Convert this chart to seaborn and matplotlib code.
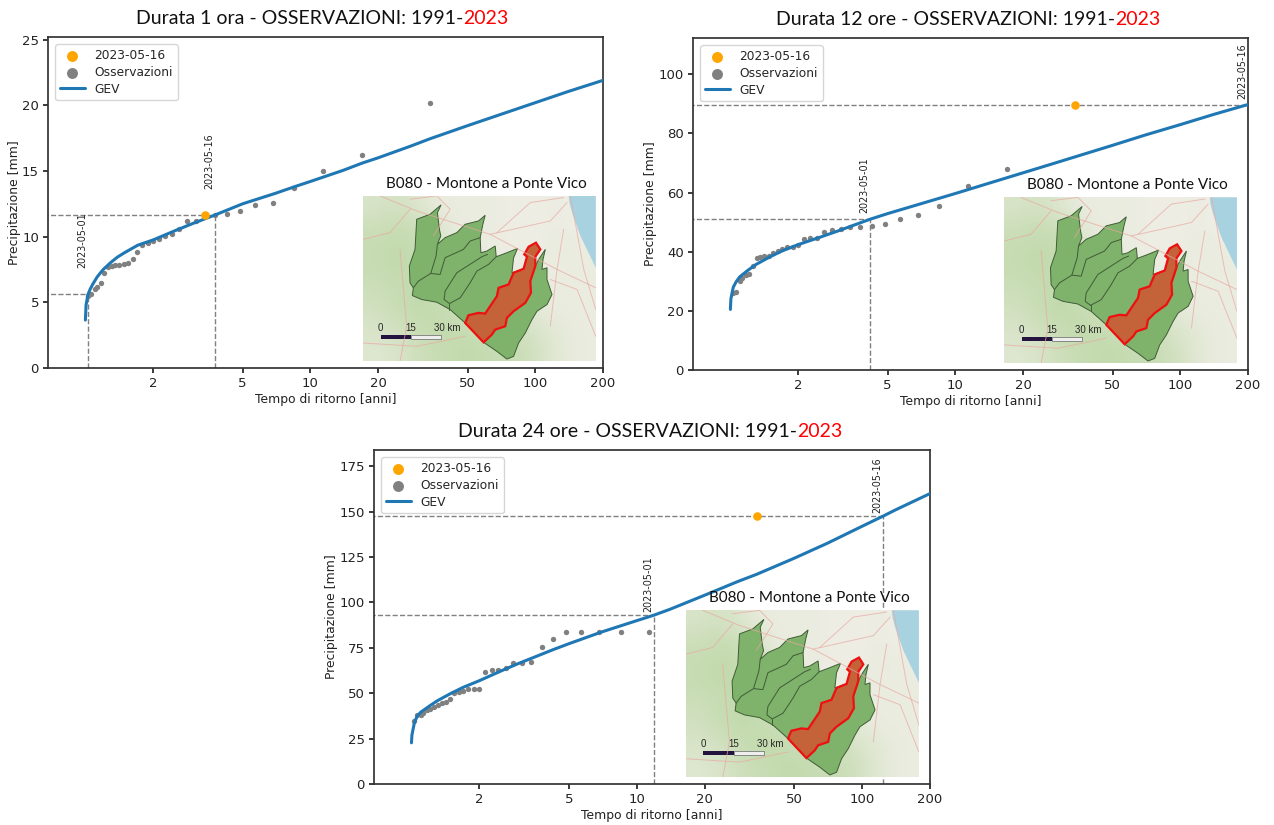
# Durata 1 / 12 / 24 ore - GEV e osservazioni

import matplotlib
matplotlib.use("Agg")
from matplotlib import pyplot as plt
from matplotlib.colors import LinearSegmentedColormap
from matplotlib.ticker import NullLocator
import seaborn as sns

# ======================================================================
# Data
# ======================================================================
xtick_values = [2, 5, 10, 20, 50, 100, 200]
obs_t = [17, 11.33, 8.5, 6.8, 5.67, 4.86, 4.25, 3.78, 3.4, 3.09, 2.83, 2.62,
         2.43, 2.27, 2.125, 2, 1.89, 1.79, 1.7, 1.62, 1.545, 1.478, 1.417,
         1.36, 1.31, 1.26, 1.21, 1.17, 1.13, 1.10, 1.0625, 1.03]

# 1 ora
obs_t_1h = [34] + obs_t
obs_1h = [20.2, 16.2, 15.0, 13.7, 12.6, 12.4, 11.95, 11.7, 11.65, 11.6, 11.2,
          11.2, 10.6, 10.2, 10.05, 9.85, 9.65, 9.55, 9.35, 8.8, 8.3, 8.0, 7.9,
          7.85, 7.85, 7.8, 7.7, 7.2, 6.5, 6.2, 6.0, 5.6, 5.5]
gev_t_1h = [1.0, 1.007, 1.027, 1.05, 1.08, 1.13, 1.2, 1.3, 1.39, 1.5, 1.71, 2, 2.5,
            3, 3.77, 5, 7, 8.5, 10, 14, 17, 20, 28, 34, 50, 70, 100, 140, 200]
gev_1h = [3.65, 4.8, 5.6, 6.0, 6.4, 6.95, 7.5, 8.05, 8.45, 8.8, 9.35, 9.75, 10.45,
          11.0, 11.65, 12.5, 13.3, 13.8, 14.2, 15.05, 15.6, 16.0, 16.9, 17.45,
          18.45, 19.3, 20.2, 21.05, 21.9]

# 12 ore
obs_12h = [68, 62.4, 55.5, 52.4, 51.2, 49.4, 48.8, 48.5, 48.4, 47.6, 47.2, 46.7,
           44.8, 44.5, 44.2, 42.3, 41.7, 41.5, 40.8, 40.2, 39.7, 38.7, 38.4,
           38.3, 37.9, 35.3, 32.5, 32.3, 31, 30.2, 26.5, 26]
gev_t_12h = [1.0, 1.005, 1.03, 1.06, 1.1, 1.2, 1.3, 1.5, 1.7, 2, 2.5, 3, 4.18,
             5, 7, 10, 14, 20, 28, 50, 70, 100, 140, 200]
gev_12h = [20.5, 24, 28, 29.8, 31.5, 33.8, 35.7, 38.3, 40.3, 42.4, 44.9, 47, 51,
           52.9, 56.2, 59.7, 63.1, 66.7, 70.1, 76, 79.5, 83, 86.4, 89.8]

# 24 ore
obs_t_24h = obs_t[1:]
obs_24h = [84, 84, 83.5, 83.5, 83.5, 80, 75.5, 67, 66.7, 66.5, 64, 63, 62.8,
           61.5, 52.5, 52.2, 52.2, 51, 50.7, 50.2, 46.8, 45, 44.8, 43.5, 42.5,
           41.5, 41, 39, 38, 38, 34.5]
gev_t_24h = [1.0, 1.005, 1.03, 1.06, 1.1, 1.2, 1.3, 1.5, 1.7, 2, 2.5, 3, 4.25, 5, 7,
             10, 11.9, 14, 20, 28, 34, 50, 70, 100, 124, 140, 200]
gev_24h = [22.7, 27, 33.7, 37.4, 39.6, 42.9, 45.8, 50, 53.3, 56.9, 62.3, 66.5, 74,
           77.3, 83.8, 90, 93, 96.2, 104, 111.5, 115.5, 124.4, 132.6, 142, 147.6,
           150.9, 160]

# event points and guide lines (return period, mm)
event_1h = [3.4, 11.65]
event_12h = [34, 89.8]
event_24h = [34, 147.5]
guides_1h = [[1.027, 5.6, "2023-05-01"], [3.77, 11.65, "2023-05-16"]]
guides_12h = [[4.18, 51, "2023-05-01"], [200, 89.8, "2023-05-16"]]
guides_24h = [[11.9, 93, "2023-05-01"], [124, 147.5, "2023-05-16"]]

# map outlines, in map pixels
green_x = [273, 262, 268, 272, 262, 285, 320, 345, 385, 405, 398, 390, 392, 410,
           435, 438, 470, 502, 490, 485, 520, 555, 565, 585, 578, 575, 590, 590,
           605, 590, 560, 545, 525, 505, 490, 470, 440, 400, 345, 300, 260, 215,
           187, 190, 180, 178, 195, 200, 240]
green_y = [107, 130, 180, 200, 225, 205, 190, 165, 155, 138, 165, 205, 250, 245,
           230, 262, 250, 237, 265, 310, 298, 290, 270, 240, 270, 300, 295, 330,
           375, 405, 425, 450, 490, 520, 560, 568, 545, 518, 460, 420, 398, 390,
           378, 355, 340, 290, 240, 150, 135]
red_x = [345, 355, 385, 405, 440, 445, 475, 490, 520, 530, 522, 535, 557, 570,
         555, 555, 540, 542, 525, 490, 470, 465, 435, 425, 400]
red_y = [460, 437, 430, 432, 380, 355, 345, 310, 298, 262, 255, 232, 220, 240,
         262, 290, 335, 370, 400, 425, 445, 470, 480, 495, 518]
inner_lines = [
    [[262, 258, 242, 270, 285, 340, 360, 390], [225, 260, 312, 315, 265, 240, 215, 205]],
    [[190, 205, 242], [355, 335, 312]],
    [[298, 282, 285, 320, 395, 412], [402, 390, 365, 310, 262, 255]],
    [[298, 330, 360, 380, 415, 438], [402, 385, 340, 305, 285, 262]],
    [[298, 298], [402, 420]],
]
# how green the base map is, coarse grid top to bottom
map_green = [
    [.4, .5, .3, .1, .1, .1, .05, .05, .1, .0],
    [.6, .7, .6, .2, .1, .1, .05, .05, .1, .0],
    [.7, .8, .7, .4, .15, .1, .05, .05, .15, .1],
    [.7, .8, .7, .5, .2, .1, .1, .1, .1, .1],
    [.6, .7, .8, .6, .3, .2, .1, .1, .1, .1],
    [.5, .7, .8, .7, .5, .4, .3, .2, .1, .1],
    [.4, .5, .7, .8, .7, .6, .6, .4, .2, .1],
    [.3, .4, .6, .7, .8, .7, .7, .5, .2, .1],
]
sea_x = [655, 736, 736, 690, 665, 657]
sea_y = [80, 80, 295, 200, 130, 100]
roads = [
    [[90, 200, 420, 620, 736], [80, 125, 195, 300, 355]],
    [[420, 600, 650], [195, 155, 100]],
    [[150, 170, 150], [240, 470, 575]],
    [[40, 200, 345], [520, 530, 500]],
    [[640, 620, 600], [180, 300, 470]],
    [[180, 260, 300, 250], [90, 80, 120, 200]],
    [[440, 540, 640], [190, 100, 85]],
    [[600, 680, 736], [330, 360, 500]],
    [[40, 120, 180], [210, 190, 120]],
    [[660, 700, 736], [80, 300, 420]],
]

# ======================================================================
# Plot
# ======================================================================
sns.set_theme(style="ticks")
plt.rcParams["font.family"] = ["DejaVu Sans"]
plt.rcParams["axes.edgecolor"] = "#333333"
plt.rcParams["xtick.color"] = "#222222"
plt.rcParams["ytick.color"] = "#222222"
plt.rcParams["axes.labelcolor"] = "#222222"

W = 1274
H = 825
fig = plt.figure(figsize=(W / 100, H / 100), dpi=100)
map_cmap = LinearSegmentedColormap.from_list("base_map", ["#f1efe8", "#b5d49c"])


def draw_map(ax, map_left):
    m = ax.inset_axes([map_left, 0.02, 0.419, 0.50])
    m.imshow(map_green, cmap=map_cmap, vmin=0, vmax=1, aspect="auto",
             interpolation="bicubic", extent=(40, 736, 575, 80))
    m.fill(sea_x, sea_y, color="#a9d2e0", lw=0)
    for xs, ys in roads:
        m.plot(xs, ys, color="#e9a8a2", lw=0.7, alpha=0.7)
    m.fill(green_x, green_y, facecolor="#7fb26b", edgecolor="#3f5c36", lw=0.7)
    for xs, ys in inner_lines:
        m.plot(xs, ys, color="#3f5c36", lw=0.7)
    m.fill(red_x, red_y, facecolor="#c4623a", edgecolor="#ee1010", lw=1.6)
    # scale bar
    m.fill([92, 183, 183, 92], [497, 497, 508, 508], color="#24123f", lw=0)
    m.fill([183, 272, 272, 183], [497, 497, 508, 508], facecolor="#eeeeee",
           edgecolor="#666666", lw=0.5)
    m.text(92, 490, "0", fontsize=7, ha="center", va="bottom", family="Liberation Sans")
    m.text(183, 490, "15", fontsize=7, ha="center", va="bottom", family="Liberation Sans")
    m.text(292, 490, "30 km", fontsize=7, ha="center", va="bottom", family="Liberation Sans")
    m.set_xlim(40, 736)
    m.set_ylim(575, 80)
    m.set_xticks([])
    m.set_yticks([])
    for s in m.spines.values():
        s.set_visible(False)
    m.text(0.53, 1.03, "B080 - Montone a Ponte Vico", transform=m.transAxes,
           fontsize=11, ha="center", va="bottom", family="Lato", color="#111111")


def draw_panel(box, ylim, yticks, t_obs, p_obs, t_gev, p_gev, event, guides, title, title_xy,
               map_left):
    left, top, right, bottom = box
    ax = fig.add_axes([left / W, 1 - bottom / H, (right - left) / W, (bottom - top) / H])
    ax.set_xscale("log")
    sns.scatterplot(x=[event[0]], y=[event[1]], color="orange", s=38, linewidth=0,
                    label="2023-05-16", zorder=5, ax=ax)
    sns.scatterplot(x=t_obs, y=p_obs, color="gray", s=15, linewidth=0,
                    label="Osservazioni", zorder=3, ax=ax)
    sns.lineplot(x=t_gev, y=p_gev, color="#1f77b4", lw=2.2, label="GEV", zorder=4, ax=ax)

    for t, p, day in guides:
        ax.plot([0.1, t], [p, p], color="gray", lw=1.0, ls="--", zorder=2)
        ax.plot([t, t], [0, p], color="gray", lw=1.0, ls="--", zorder=2)
        ax.text(t * 0.993, p + 2, day, rotation=90, fontsize=6.9, ha="right", va="bottom",
                color="#222222")

    ax.set_xlim(0.682, 200)
    ax.set_ylim(*ylim)
    ax.set_xticks(xtick_values)
    ax.set_xticklabels([str(v) for v in xtick_values])
    ax.xaxis.set_minor_locator(NullLocator())
    ax.set_yticks(yticks)
    ax.tick_params(labelsize=9.5, length=3.5, pad=3)
    ax.set_xlabel("Tempo di ritorno [anni]", fontsize=8.9, labelpad=2)
    ax.set_ylabel("Precipitazione [mm]", fontsize=8.9, labelpad=1)

    leg = ax.legend(loc="upper left", fontsize=8.8, framealpha=0.8, borderaxespad=0.6,
                    labelspacing=0.3)
    for h in leg.legend_handles[:2]:
        h.set_sizes([62])

    draw_map(ax, map_left)

    t1 = fig.text(title_xy[0] / W, 1 - title_xy[1] / H, title, fontsize=14, family="Lato",
                  color="#111111", ha="left", va="baseline")
    ax.annotate("2023", xy=(1, 0), xycoords=t1, fontsize=14, family="Lato", color="red",
                ha="left", va="bottom", annotation_clip=False)


title_start = " - OSSERVAZIONI: 1991-"
draw_panel((48, 37, 603, 368), (0, 25.2), [0, 5, 10, 15, 20, 25], obs_t_1h, obs_1h,
           gev_t_1h, gev_1h, event_1h, guides_1h, "Durata 1 ora" + title_start, (136, 24), 0.568)
draw_panel((693, 38, 1248, 370), (0, 112.3), [0, 20, 40, 60, 80, 100], obs_t, obs_12h,
           gev_t_12h, gev_12h, event_12h, guides_12h, "Durata 12 ore" + title_start, (776, 25),
           0.561)
draw_panel((374, 450, 930, 784), (0, 184), [0, 25, 50, 75, 100, 125, 150, 175], obs_t_24h,
           obs_24h, gev_t_24h, gev_24h, event_24h, guides_24h, "Durata 24 ore" + title_start,
           (458, 437), 0.561)

fig.savefig("out.png", dpi=100)
